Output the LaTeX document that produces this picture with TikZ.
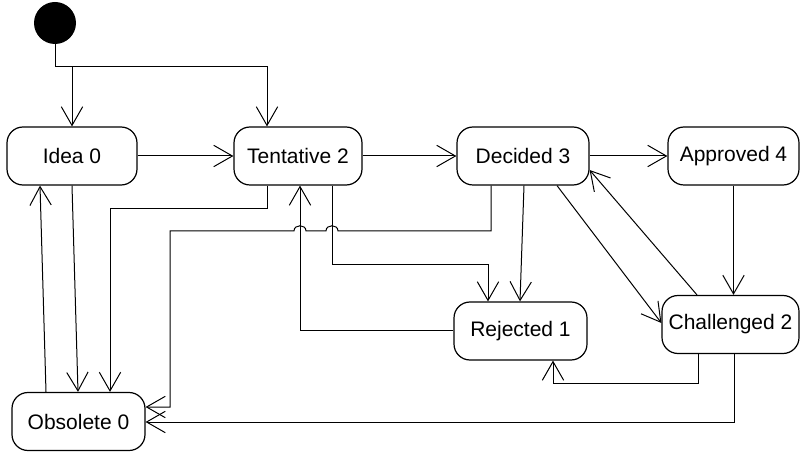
\documentclass[tikz,border=0pt]{standalone}
\usepackage{fontspec}
\setmainfont{Liberation Sans}
\usetikzlibrary{arrows.meta}
\begin{document}
\begin{tikzpicture}[x=0.75pt,y=-0.75pt,
  state/.style={draw, line width=0.9pt, rounded corners=12pt, minimum height=43.5pt,
    inner sep=0pt, font=\fontsize{15.75pt}{18pt}\selectfont},
  flow/.style={line width=0.75pt, -{Straight Barb[length=14pt,width=16pt,line width=0.75pt]}},
  link/.style={line width=0.75pt}]
\useasboundingbox (0,0) rectangle (800,452);

% states
\node[circle, fill=black, minimum size=31.5pt, inner sep=0pt] (start) at (55,23) {};
\node[state, minimum width=97.5pt]  (Idea) at (72,156)    {Idea 0};
\node[state, minimum width=96pt]    (Tent) at (298,156)   {Tentative 2};
\node[state, minimum width=99pt]    (Dec)  at (523,156)   {Decided 3};
\node[state, minimum width=98.25pt] (App)  at (733.5,156) {Approved 4};
\node[state, minimum width=102.75pt](Chal) at (730.5,324.5) {Challenged 2};
\node[state, minimum width=99.75pt] (Rej)  at (520.5,331) {Rejected 1};
\node[state, minimum width=99.75pt] (Obs)  at (78.5,421.5) {Obsolete 0};
\coordinate (fork) at (72,67);

% initial transitions
\draw[flow] (start.south) |- (267,67) -- (Tent.north -| 267,0);
\draw[flow] (fork) -- (Idea.north);

% main line
\draw[flow] (Idea.east) -- (Tent.west);
\draw[flow] (Tent.east) -- (Dec.west);
\draw[flow] (Dec.east) -- (App.west);
\draw[flow] (App.south) -- (App.south |- Chal.north);

% decided / challenged
\draw[flow] (Chal.north -| 697,0) -- (Dec.east |- 0,170);
\draw[flow] (Dec.south -| 557,0) -- (Chal.west |- 0,323);
\draw[flow] (Dec.south -| 524,0) -- (Rej.north -| 520,0);

% decided to obsolete, hopping over two lines
\draw[flow] (Dec.south -| 491,0) -- (491,231) -- (338,231)
  .. controls (338,224) and (326,224) .. (326,231) -- (306,231)
  .. controls (306,224) and (294,224) .. (294,231) -- (170,231)
  -- (170,407) -- (Obs.east |- 0,407);

% tentative to obsolete
\draw[flow] (Tent.south -| 267,0) -- (267,209) -- (110,209) -- (Obs.north -| 110,0);

% idea / obsolete
\draw[flow] (Idea.south -| 72,0) -- (Obs.north -| 78,0);
\draw[flow] (Obs.north -| 46,0) -- (Idea.south -| 40,0);

% rejected / tentative
\draw[flow] (Rej.west |- 0,331) -- (300,331) -- (Tent.south -| 300,0);
\draw[flow] (Tent.south -| 332,0) -- (332,265) -- (488,265) -- (Rej.north -| 488,0);

% challenged outcomes
\draw[flow] (Chal.south -| 698,0) -- (698,384) -- (553,384) -- (Rej.south -| 553,0);
\draw[flow] (Chal.south -| 734,0) -- (734,422) -- (Obs.east |- 0,422);
\end{tikzpicture}
\end{document}
